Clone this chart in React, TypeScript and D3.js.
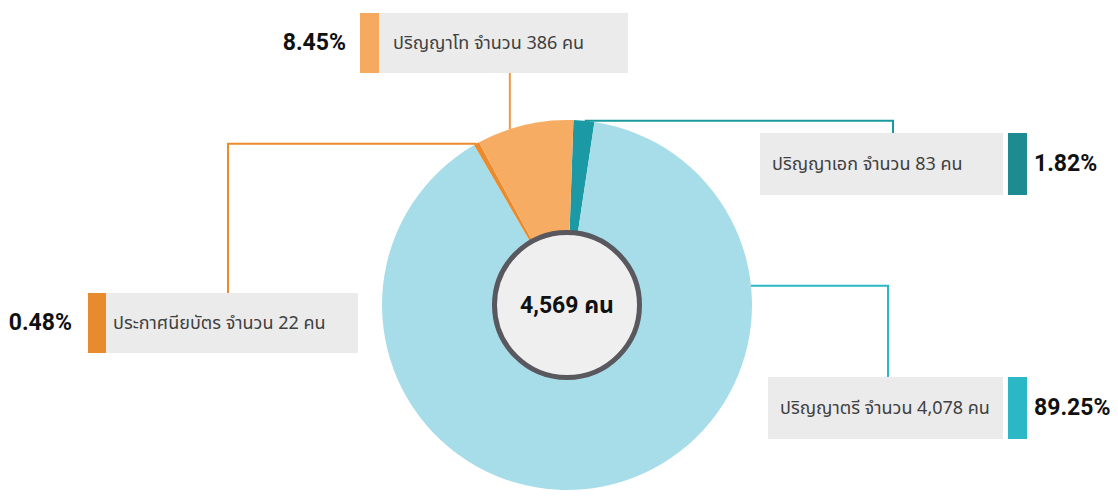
import React from "react";
import * as d3 from "d3";

// ---- data ----
const categories = ["ปริญญาเอก", "ปริญญาตรี", "ประกาศนียบัตร", "ปริญญาโท"];
const counts = [83, 4078, 22, 386];
const percentLabels = ["1.82%", "89.25%", "0.48%", "8.45%"];
const totalLabel = "4,569 คน";

// ---- styles ----
const sliceColors = ["#1b9aa5", "#a7dde8", "#ec8a2c", "#f6ad63"];
const barColors = ["#1d8b90", "#2bb7c5", "#e88a2e", "#f5aa5f"];
const lineColors = ["#1a9aa0", "#2bb6c2", "#ec8a2c", "#ef9a45"];
const THAI = "'Noto Sans Thai', 'Noto Sans', 'DejaVu Sans', sans-serif";
const BOLD = "Roboto, 'Noto Sans', 'Noto Sans Thai', sans-serif";

const W = 1118;
const H = 497;
const cx = 567;
const cy = 305;
const R = 185;
const innerR = 75;

// label box layout (per category index)
type Box = {
  grayX: number; grayW: number; y: number; h: number;
  barX: number; barW: number; textX: number;
  pctX: number; pctAnchor: "start" | "end";
  anchorDeg: number; route: "up" | "hv";
  elbowX?: number;
};
const boxes: Box[] = [
  { grayX: 760, grayW: 243, y: 133, h: 62, barX: 1008, barW: 19, textX: 772, pctX: 1034, pctAnchor: "start", anchorDeg: 5.5, route: "hv", elbowX: 893 },
  { grayX: 768, grayW: 235, y: 377, h: 62, barX: 1008, barW: 19, textX: 780, pctX: 1034, pctAnchor: "start", anchorDeg: 84, route: "hv", elbowX: 888 },
  { grayX: 106, grayW: 252, y: 293, h: 60, barX: 88, barW: 18, textX: 113, pctX: 72, pctAnchor: "end", anchorDeg: -29.3, route: "hv", elbowX: 228 },
  { grayX: 379, grayW: 249, y: 13, h: 60, barX: 360, barW: 19, textX: 393, pctX: 346, pctAnchor: "end", anchorDeg: -18, route: "up" },
];

const fmt = d3.format(",");

export default function App() {
  const pie = d3
    .pie<number>()
    .sort(null)
    .value((d) => d)
    .startAngle((2 * Math.PI) / 180)
    .endAngle((2 * Math.PI) / 180 + 2 * Math.PI);
  const arcs = pie(counts);
  const arcGen = d3.arc<d3.PieArcDatum<number>>().innerRadius(0).outerRadius(R);

  const leader = (i: number) => {
    const b = boxes[i];
    const a = (b.anchorDeg * Math.PI) / 180;
    const x0 = cx + R * Math.sin(a);
    const y0 = cy - R * Math.cos(a);
    const p = d3.path();
    if (b.route === "up") {
      p.moveTo(x0, y0);
      p.lineTo(x0, b.y + b.h);
    } else {
      p.moveTo(x0, y0);
      p.lineTo(b.elbowX!, y0);
      p.lineTo(b.elbowX!, b.y);
    }
    return p.toString();
  };

  return (
    <svg width={W} height={H} style={{ position: "absolute", left: 0, top: 0 }}>
      <rect width={W} height={H} fill="#ffffff" />
      {/* leader lines */}
      {counts.map((_, i) => (
        <path key={"l" + i} d={leader(i)} fill="none" stroke={lineColors[i]} strokeWidth={2} />
      ))}
      {/* pie */}
      <g transform={`translate(${cx},${cy})`}>
        {arcs.map((a, i) => (
          <path key={"s" + i} d={arcGen(a) || ""} fill={sliceColors[i]} />
        ))}
        <circle r={innerR - 2.5} fill="#efeff0" stroke="#58585e" strokeWidth={5} />
        <text
          x={0}
          y={2}
          textAnchor="middle"
          dominantBaseline="middle"
          fontFamily={BOLD}
          fontWeight="bold"
          fontSize={23}
          fill="#111"
        >
          {totalLabel}
        </text>
      </g>
      {/* label boxes */}
      {categories.map((c, i) => {
        const b = boxes[i];
        return (
          <g key={"b" + i}>
            <rect x={b.grayX} y={b.y} width={b.grayW} height={b.h} fill="#ebebeb" />
            <rect x={b.barX} y={b.y} width={b.barW} height={b.h} fill={barColors[i]} />
            <text
              x={b.textX}
              y={b.y + b.h / 2 + 1}
              dominantBaseline="middle"
              fontFamily={THAI}
              fontSize={18}
              fill="#404040"
            >
              {`${c} จำนวน ${fmt(counts[i])} คน`}
            </text>
            <text
              x={b.pctX}
              y={b.y + b.h / 2 + 1}
              textAnchor={b.pctAnchor}
              dominantBaseline="middle"
              fontFamily={BOLD}
              fontWeight="bold"
              fontSize={23}
              fill="#111"
            >
              {percentLabels[i]}
            </text>
          </g>
        );
      })}
    </svg>
  );
}
